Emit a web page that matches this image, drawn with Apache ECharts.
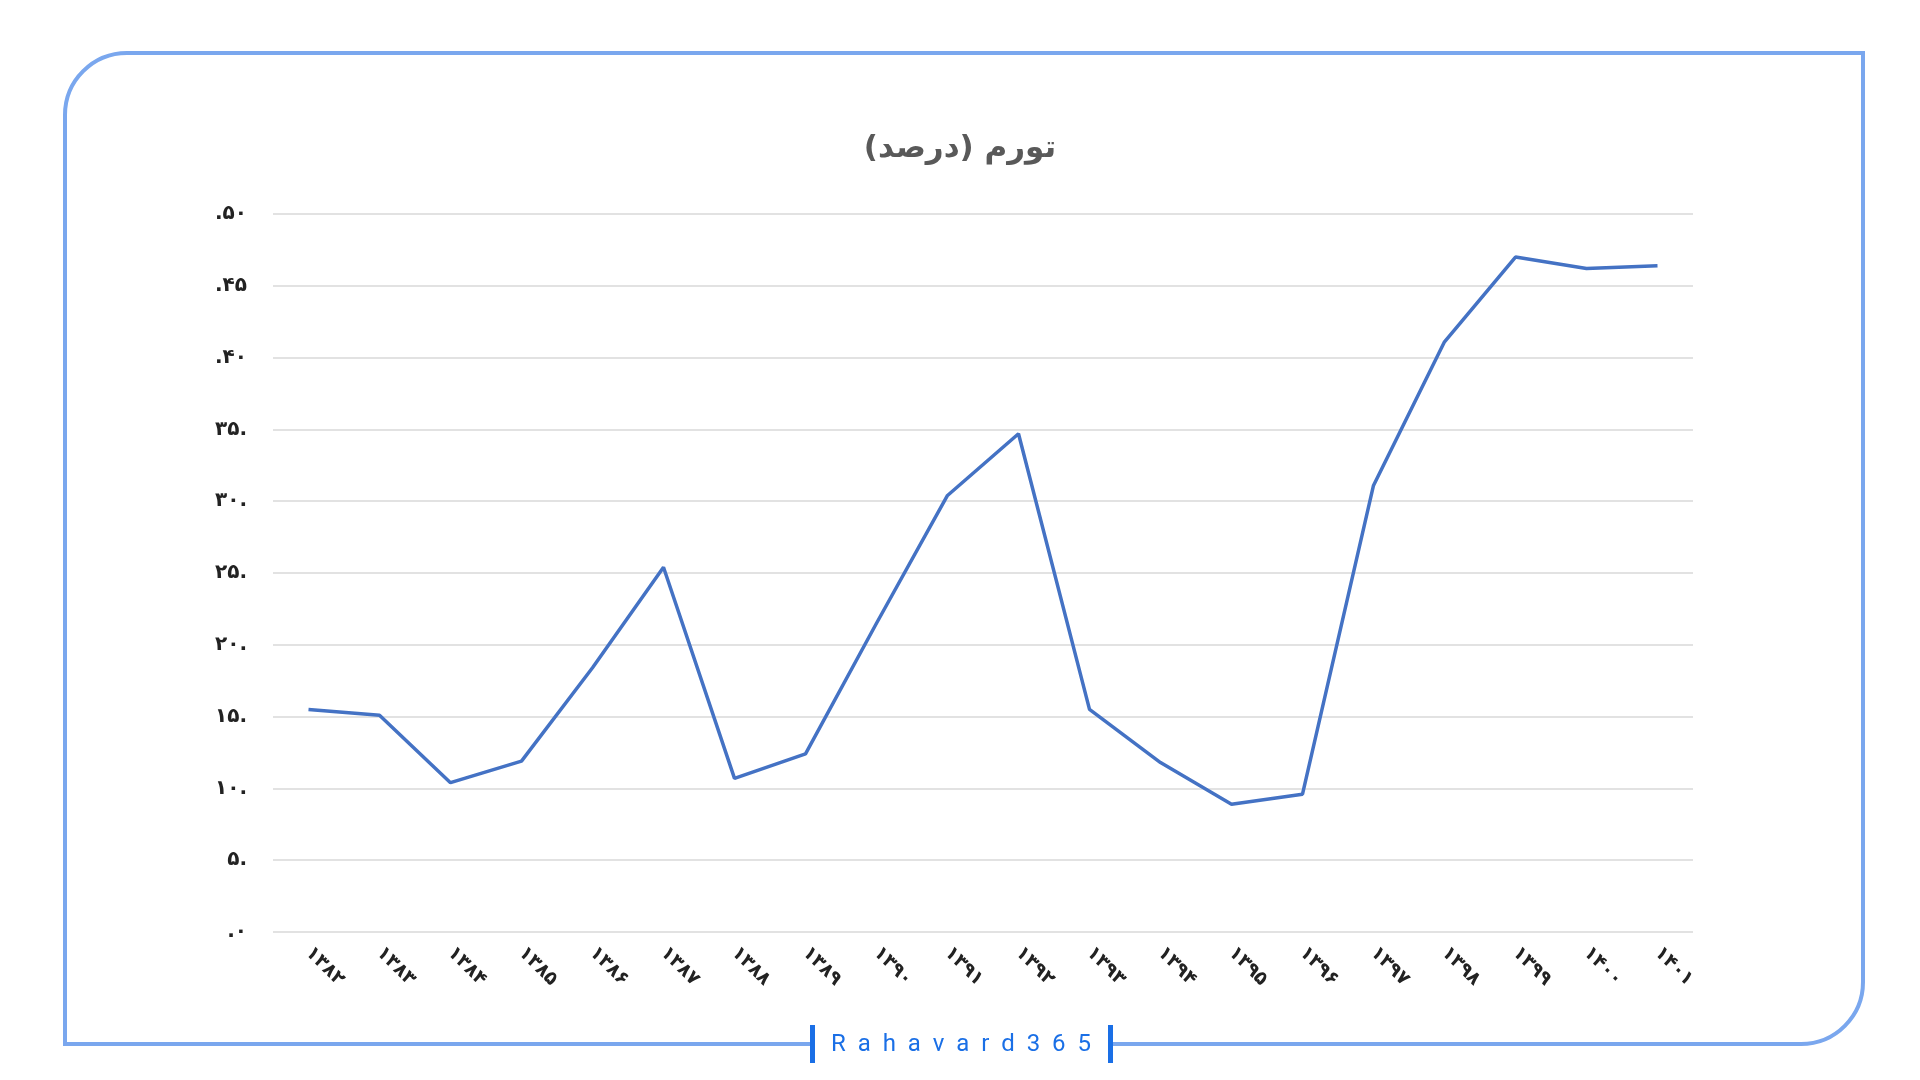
<!DOCTYPE html><html><head><meta charset="utf-8"><style>html,body{margin:0;background:#fff}#c{width:1920px;height:1080px}</style>
<script src="https://cdn.jsdelivr.net/npm/echarts@6/dist/echarts.min.js"></script></head><body><div id="c"></div><script>
const categories=['۱۳۸۲','۱۳۸۳','۱۳۸۴','۱۳۸۵','۱۳۸۶','۱۳۸۷','۱۳۸۸','۱۳۸۹','۱۳۹۰','۱۳۹۱','۱۳۹۲','۱۳۹۳','۱۳۹۴','۱۳۹۵','۱۳۹۶','۱۳۹۷','۱۳۹۸','۱۳۹۹','۱۴۰۰','۱۴۰۱'];
const inflation=[15.5,15.1,10.4,11.9,18.4,25.4,10.7,12.4,21.5,30.4,34.7,15.5,11.8,8.9,9.6,31.1,41.1,47.0,46.2,46.4];
const yTickLabels={0:'.۰',5:'۵.',10:'۱۰.',15:'۱۵.',20:'۲۰.',25:'۲۵.',30:'۳۰.',35:'۳۵.',40:'.۴۰',45:'.۴۵',50:'.۵۰'};
const c=echarts.init(document.getElementById('c'));
const font='"DejaVu Sans", sans-serif';
c.setOption({
 animation:false,
 title:{text:'تورم (درصد)',left:'center',top:128,textStyle:{fontFamily:font,fontSize:31,fontWeight:'bold',color:'#595959'}},
 grid:{left:273,right:227,top:214,bottom:148},
 xAxis:{type:'category',data:categories,boundaryGap:true,axisLine:{show:false},axisTick:{show:false},
  axisLabel:{rotate:-45,margin:18,fontFamily:font,fontSize:19,fontWeight:'bold',color:'#222'}},
 yAxis:{type:'value',min:0,max:50,interval:5,axisLine:{show:false},axisTick:{show:false},
  splitLine:{lineStyle:{color:'#d9d9d9',width:1.5}},
  axisLabel:{margin:26,formatter:v=>yTickLabels[v],fontFamily:font,fontSize:20,fontWeight:'bold',color:'#222'}},
 series:[{type:'line',data:inflation,symbol:'none',lineStyle:{color:'#4472c4',width:3.5}}],
 graphic:[
  {type:'rect',shape:{x:65,y:53,width:1798,height:991,r:[62,0,62,0]},style:{fill:'none',stroke:'#7aa7ee',lineWidth:4},z:0},
  {type:'rect',shape:{x:813,y:1026,width:298,height:40},style:{fill:'#fff'},z:1},
  {type:'rect',shape:{x:810,y:1025,width:5,height:38},style:{fill:'#1a6fe6'},z:2},
  {type:'rect',shape:{x:1108,y:1025,width:5,height:38},style:{fill:'#1a6fe6'},z:2},
  {type:'text',x:961,y:1045,style:{text:'R  a  h  a  v  a  r  d  3  6  5',fill:'#1a6fe6',fontFamily:'Roboto, sans-serif',fontSize:24,align:'center',verticalAlign:'middle'},z:3}
 ]
});
</script></body></html>
